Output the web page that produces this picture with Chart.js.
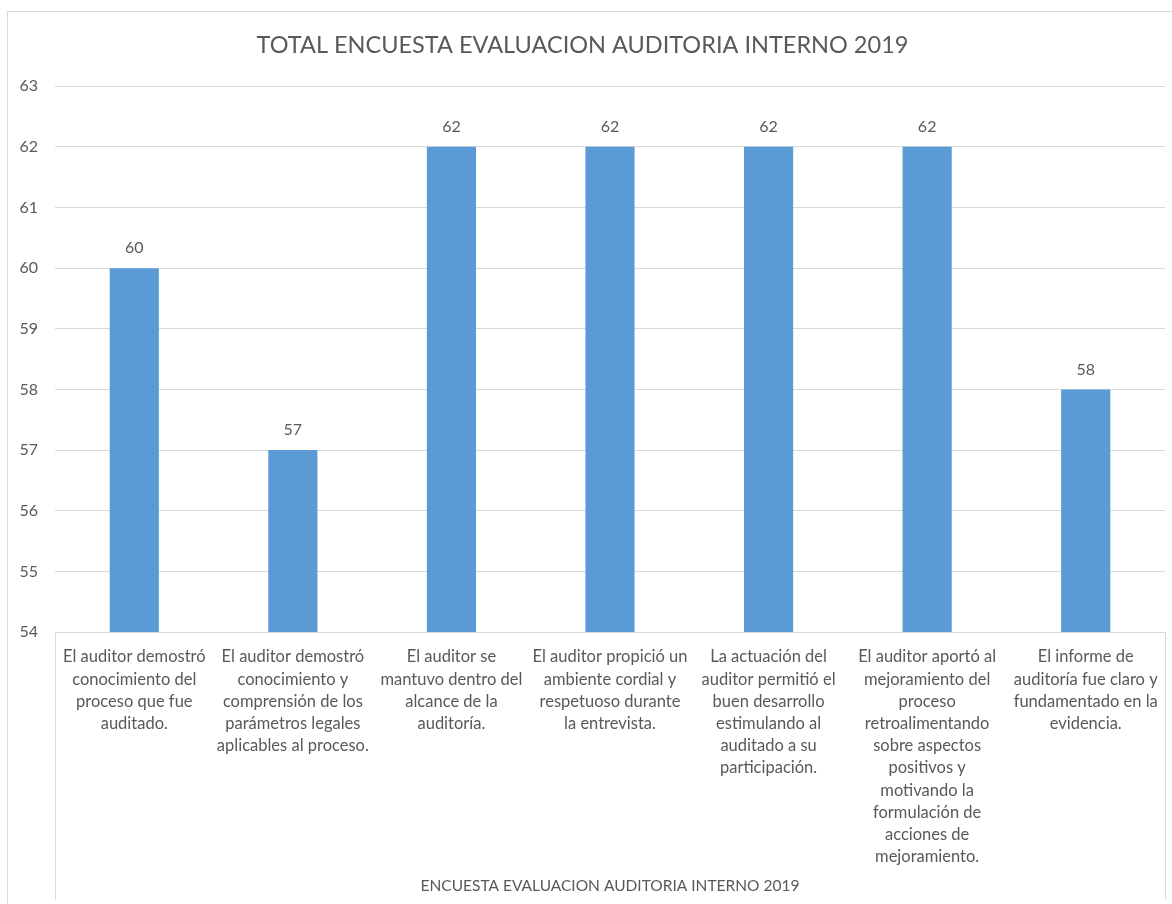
<!DOCTYPE html>
<html>
<head>
<meta charset="utf-8">
<script src="https://cdn.jsdelivr.net/npm/chart.js@4/dist/chart.umd.min.js"></script>
<style>
  html, body { margin: 0; padding: 0; background: #fff; overflow: hidden; }
  #wrap { position: relative; width: 1172px; height: 904px; }
  #frame {
    position: absolute; left: 7px; top: 11px; width: 1200px; height: 1000px;
    border: 1px solid #d9d9d9; pointer-events: none;
  }
</style>
</head>
<body>
<div id="wrap">
  <canvas id="chart" width="1172" height="904"></canvas>
  <div id="frame"></div>
</div>
<script>
const categories = [
  ["El auditor demostró", "conocimiento del", "proceso que fue", "auditado."],
  ["El auditor demostró", "conocimiento y", "comprensión de los", "parámetros legales", "aplicables al proceso."],
  ["El auditor se", "mantuvo dentro del", "alcance de la", "auditoría."],
  ["El auditor propició un", "ambiente cordial y", "respetuoso durante", "la entrevista."],
  ["La actuación del", "auditor permitió el", "buen desarrollo", "estimulando al", "auditado a su", "participación."],
  ["El auditor aportó al", "mejoramiento del", "proceso", "retroalimentando", "sobre aspectos", "positivos y", "motivando la", "formulación de", "acciones de", "mejoramiento."],
  ["El informe de", "auditoría fue claro y", "fundamentado en la", "evidencia."]
];
const totals = [60, 57, 62, 62, 62, 62, 58];
const yTicks = [54, 55, 56, 57, 58, 59, 60, 61, 62, 63];

const textColor = "#595959";
const gridColor = "#d9d9d9";
const fontFamily = "Lato, 'Open Sans', sans-serif";

// values above each bar
const barValues = {
  id: "barValues",
  afterDatasetsDraw(chart) {
    const { ctx } = chart;
    const meta = chart.getDatasetMeta(0);
    ctx.save();
    ctx.fillStyle = textColor;
    ctx.font = "16px " + fontFamily;
    ctx.textAlign = "center";
    ctx.textBaseline = "middle";
    meta.data.forEach((bar, i) => {
      ctx.fillText(String(totals[i]), bar.x, bar.y - 20);
    });
    ctx.restore();
  },
};

// vertical lines at the plot edges, down through the label area
const edgeLines = {
  id: "edgeLines",
  afterDraw(chart) {
    const { ctx, chartArea } = chart;
    ctx.save();
    ctx.strokeStyle = gridColor;
    ctx.lineWidth = 1;
    [chartArea.left, chartArea.right].forEach((x) => {
      ctx.beginPath();
      ctx.moveTo(Math.round(x) + 0.5, chartArea.bottom);
      ctx.lineTo(Math.round(x) + 0.5, 900);
      ctx.stroke();
    });
    ctx.restore();
  },
};

new Chart(document.getElementById("chart"), {
  type: "bar",
  data: {
    labels: categories,
    datasets: [
      {
        label: "Total",
        data: totals,
        backgroundColor: "#5b9bd5",
        categoryPercentage: 1,
        barPercentage: 0.31,
      },
    ],
  },
  options: {
    responsive: false,
    animation: false,
    layout: { padding: { left: 0, right: 7, top: 0, bottom: 0 } },
    plugins: {
      legend: { display: false },
      tooltip: { enabled: false },
      title: {
        display: true,
        text: "TOTAL ENCUESTA EVALUACION AUDITORIA INTERNO 2019",
        color: textColor,
        font: { family: fontFamily, size: 23.5, weight: "normal" },
        padding: { top: 31, bottom: 27 },
      },
    },
    scales: {
      x: {
        grid: { display: false },
        border: { display: false },
        ticks: {
          color: textColor,
          font: { family: fontFamily, size: 16.5, lineHeight: 1.345 },
          autoSkip: false,
          maxRotation: 0,
          minRotation: 0,
          padding: 6,
        },
        title: {
          display: true,
          text: "ENCUESTA EVALUACION AUDITORIA INTERNO 2019",
          color: textColor,
          font: { family: fontFamily, size: 15.5 },
          padding: { top: 0, bottom: 9 },
        },
        afterFit(scale) {
          scale.height = 272;
        },
      },
      y: {
        min: 54,
        max: 63,
        afterBuildTicks(scale) {
          scale.ticks = yTicks.map((v) => ({ value: v }));
        },
        grid: { color: gridColor, drawTicks: false },
        border: { display: false },
        ticks: {
          color: textColor,
          font: { family: fontFamily, size: 16 },
          padding: 17,
        },
        afterFit(scale) {
          scale.width = 55;
        },
      },
    },
  },
  plugins: [barValues, edgeLines],
});
</script>
</body>
</html>
